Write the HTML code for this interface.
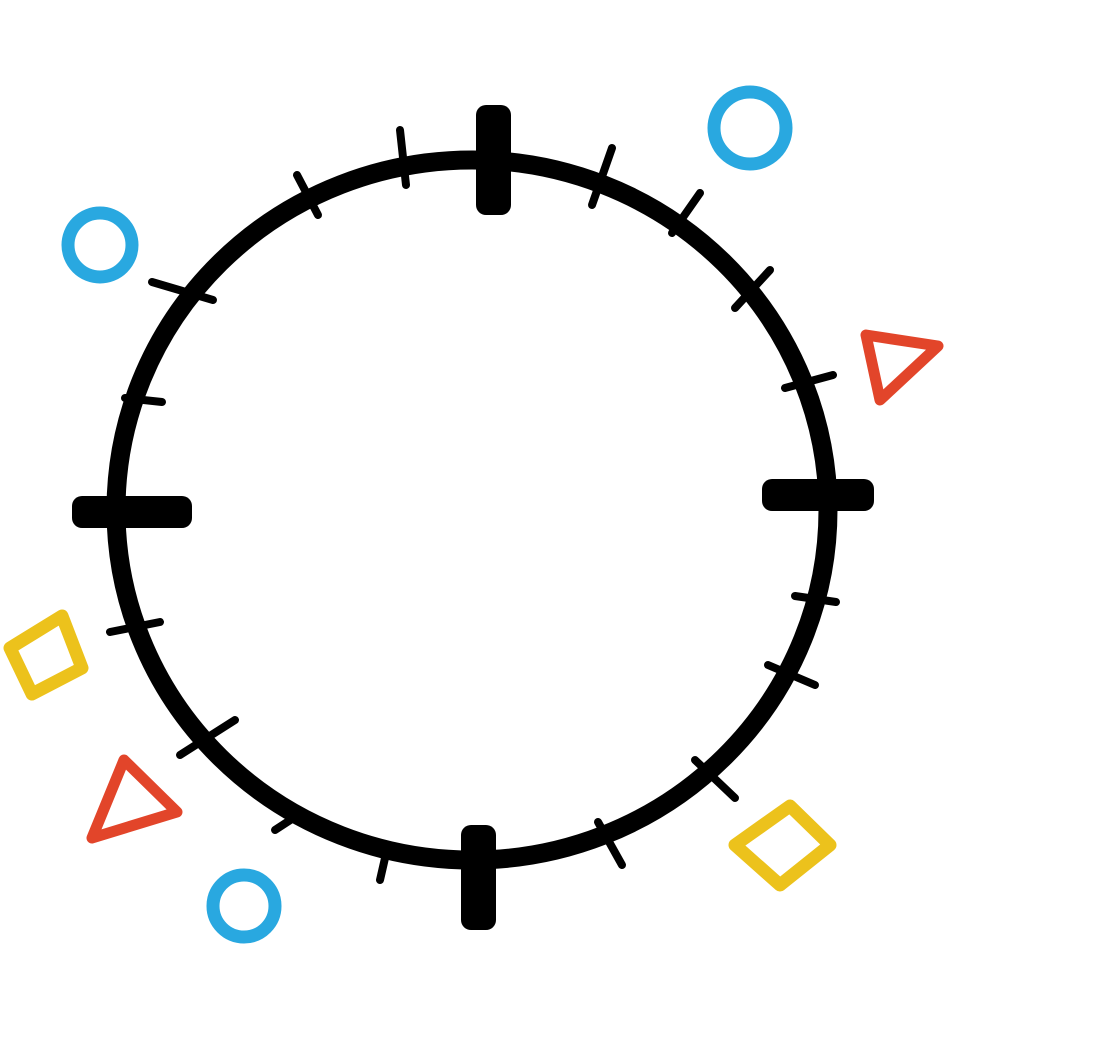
<!DOCTYPE html>
<html><head><style>html,body{margin:0;padding:0;background:#fff;}svg{display:block}</style></head>
<body>
<svg width="1097" height="1039" viewBox="0 0 1097 1039" xmlns="http://www.w3.org/2000/svg">
<ellipse cx="472" cy="510" rx="356" ry="350" fill="none" stroke="#000" stroke-width="19"/>
<g stroke="#000" stroke-width="8" stroke-linecap="round">
<line x1="400" y1="130" x2="406" y2="185"/>
<line x1="297" y1="175" x2="318" y2="215"/>
<line x1="612" y1="148" x2="592" y2="205"/>
<line x1="700" y1="193" x2="672" y2="233"/>
<line x1="770" y1="270" x2="735" y2="308"/>
<line x1="833" y1="375" x2="785" y2="388"/>
<line x1="152" y1="282" x2="213" y2="300"/>
<line x1="125" y1="398" x2="162" y2="402"/>
<line x1="110" y1="632" x2="160" y2="622"/>
<line x1="180" y1="755" x2="235" y2="720"/>
<line x1="275" y1="830" x2="298" y2="815"/>
<line x1="380" y1="880" x2="388" y2="845"/>
<line x1="598" y1="822" x2="622" y2="865"/>
<line x1="695" y1="760" x2="735" y2="798"/>
<line x1="768" y1="665" x2="815" y2="685"/>
<line x1="795" y1="596" x2="836" y2="602"/>
</g>
<g fill="#000">
<rect x="476" y="105" width="35" height="110" rx="10"/>
<rect x="461" y="825" width="35" height="105" rx="10"/>
<rect x="72" y="496" width="120" height="32" rx="10"/>
<rect x="762" y="479" width="112" height="32" rx="10"/>
</g>
<g fill="none" stroke="#29a8e0" stroke-width="13">
<circle cx="750" cy="128" r="36"/>
<circle cx="100" cy="245" r="32"/>
<circle cx="244" cy="906" r="31"/>
</g>
<g fill="none" stroke="#e2452a" stroke-width="11" stroke-linejoin="round">
<polygon points="866,335 938,346 880,400"/>
<polygon points="92,838 124,760 177,812"/>
</g>
<g fill="none" stroke="#ecc21c" stroke-width="13" stroke-linejoin="round">
<polygon points="10,648 62,616 82,668 32,694"/>
<polygon points="735,845 790,806 830,845 780,885"/>
</g>
</svg>
</body></html>
